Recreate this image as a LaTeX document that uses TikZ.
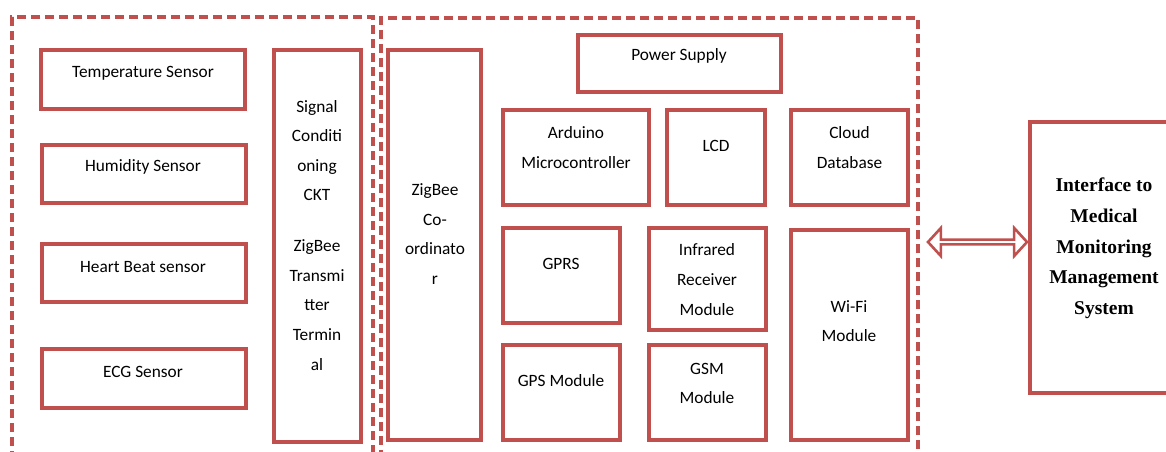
\documentclass[tikz,border=0pt]{standalone}
\usepackage{fontspec}
\setmainfont{Carlito}
\newfontfamily\ifacefont{Liberation Serif}
\usetikzlibrary{shapes.arrows}
\definecolor{brick}{HTML}{C0504D}
\tikzset{
  blk/.style={draw=brick, line width=3.3pt, fill=white, inner sep=0pt},
  zone/.style={draw=brick, line width=3.2pt, dash pattern=on 9pt off 5pt, inner sep=0pt},
  txt/.style={align=center, inner sep=0pt, font=\fontsize{17.3}{29.6}\selectfont},
  itxt/.style={align=center, inner sep=0pt, font=\ifacefont\bfseries\fontsize{19.5}{30.7}\selectfont},
}
\begin{document}
\begin{tikzpicture}[x=1pt, y=-1pt]
\useasboundingbox (0,0) rectangle (1166,451);
\clip (0,0) rectangle (1166,451);
% zones
\node[zone, minimum width=361pt, minimum height=440pt] (zone1) at (192.5,237) {};
\node[zone, minimum width=537pt, minimum height=440pt] (zone2) at (649.5,238) {};
% left blocks
\node[blk, minimum width=204pt, minimum height=59pt] (temp) at (143,79.5) {};
\node[blk, minimum width=204pt, minimum height=58pt] (hum) at (144,174) {};
\node[blk, minimum width=204pt, minimum height=58pt] (heart) at (144,273) {};
\node[blk, minimum width=204pt, minimum height=59pt] (ecg) at (144,378.5) {};
\node[blk, minimum width=87pt, minimum height=392pt] (signal) at (317.5,246) {};
% middle blocks
\node[blk, minimum width=93pt, minimum height=390pt] (zcoord) at (434.5,245) {};
\node[blk, minimum width=203pt, minimum height=57pt] (power) at (679.5,63.5) {};
\node[blk, minimum width=146pt, minimum height=95pt] (arduino) at (576,157.5) {};
\node[blk, minimum width=98pt, minimum height=95pt] (lcd) at (716,157.5) {};
\node[blk, minimum width=117pt, minimum height=95pt] (cloud) at (849.5,157.5) {};
\node[blk, minimum width=117pt, minimum height=95pt] (gprs) at (561.5,275.5) {};
\node[blk, minimum width=117pt, minimum height=102pt] (infra) at (707.5,279) {};
\node[blk, minimum width=117pt, minimum height=210pt] (wifi) at (849.5,335) {};
\node[blk, minimum width=117pt, minimum height=95pt] (gps) at (561.5,392.5) {};
\node[blk, minimum width=117pt, minimum height=95pt] (gsm) at (707.5,392.5) {};
% interface
\node[blk, minimum width=150pt, minimum height=271pt] (iface) at (1105,257.5) {};
% texts
\node[txt] (tTemp) at (143,73) {Temperature Sensor};
\node[txt] (tHum) at (143,167) {Humidity Sensor};
\node[txt] (tHeart) at (143,267) {Heart Beat sensor};
\node[txt] (tEcg) at (143,372) {ECG Sensor};
\node[txt] (tSigA) at (317,150.5) {Signal\\Conditi\\oning\\CKT};
\node[txt] (tSigB) at (317,305) {ZigBee\\Transmi\\tter\\Termin\\al};
\node[txt] (tCoord) at (435,234) {ZigBee\\Co-\\ordinato\\r};
\node[txt] (tPower) at (679,56) {Power Supply};
\node[txt] (tArd) at (576,147.5) {Arduino\\Microcontroller};
\node[txt] (tLcd) at (716,146) {LCD};
\node[txt] (tCloud) at (849.5,147.5) {Cloud\\Database};
\node[txt] (tGprs) at (561,264) {GPRS};
\node[txt] (tInfra) at (707,279.5) {Infrared\\Receiver\\Module};
\node[txt] (tWifi) at (849,321) {Wi-Fi\\Module};
\node[txt] (tGps) at (561,381) {GPS Module};
\node[txt] (tGsm) at (707,383.5) {GSM\\Module};
\node[itxt] (tIface) at (1104,248.5) {Interface to\\Medical\\Monitoring\\Management\\System};
% double arrow
\node[double arrow, draw=brick, line width=2.6pt, fill=white, inner sep=0pt,
      minimum height=99pt, minimum width=28pt, double arrow head extend=6.5pt,
      double arrow tip angle=95] (link) at (977.5,242) {};
\end{tikzpicture}
\end{document}
